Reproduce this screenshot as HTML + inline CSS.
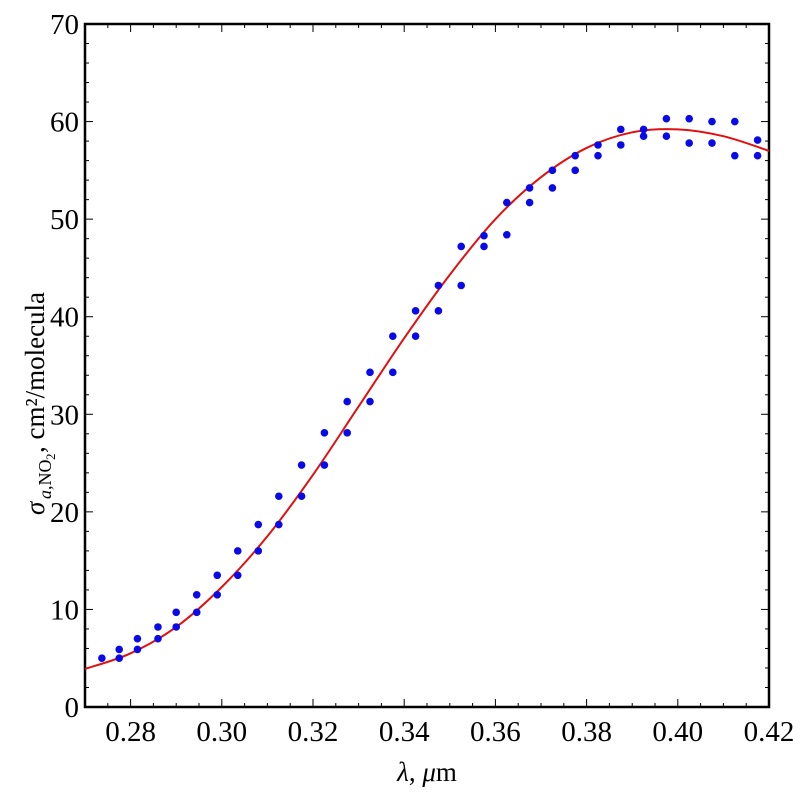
<!DOCTYPE html>
<html><head><meta charset="utf-8"><style>
body{margin:0;background:#fff}
svg text{font-family:"Liberation Serif",serif;fill:#000}
</style></head><body>
<svg id="chart" width="800" height="800">
<g id="axes"></g><g id="marks"></g>
<text x="427" y="781" font-size="27" text-anchor="middle"><tspan font-style="italic">λ</tspan>, <tspan font-style="italic">μ</tspan>m</text>
<g transform="translate(44,365) rotate(-90)">
<text x="-150" y="0" font-size="27" font-style="italic">σ</text>
<text x="-134" y="7" font-size="18"><tspan font-style="italic">a</tspan>,NO</text>
<text x="-95" y="11" font-size="13">2</text>
<text x="-88" y="0" font-size="27">, cm²/molecula</text>
</g>
</svg>
<script>
const xPts=[0.2737,0.2775,0.2775,0.2815,0.2815,0.286,0.286,0.290,0.290,0.2945,0.2945,0.299,0.299,0.3035,0.3035,0.308,0.308,0.3125,0.3125,0.3175,0.3175,0.3225,0.3225,0.3275,0.3275,0.3325,0.3325,0.3375,0.3375,0.3425,0.3425,0.3475,0.3475,0.3525,0.3525,0.3575,0.3575,0.3625,0.3625,0.3675,0.3675,0.3725,0.3725,0.3775,0.3775,0.3825,0.3825,0.3875,0.3875,0.3925,0.3925,0.3975,0.3975,0.4025,0.4025,0.4075,0.4075,0.4125,0.4125,0.4175,0.4175];
const yPts=[5.0,5.9,5.0,7.0,5.9,8.2,7.0,9.7,8.2,11.5,9.7,13.5,11.5,16.0,13.5,18.7,16.0,21.6,18.7,24.8,21.6,28.1,24.8,31.3,28.1,34.3,31.3,38.0,34.3,40.6,38.0,43.2,40.6,47.2,43.2,48.3,47.2,51.7,48.4,53.2,51.7,55.0,53.2,56.5,55.0,57.6,56.5,59.2,57.6,59.2,58.5,60.3,58.5,60.3,57.8,60.0,57.8,60.0,56.5,58.1,56.5];
const xFit=[0.27,0.28,0.29,0.30,0.31,0.32,0.33,0.34,0.35,0.36,0.37,0.38,0.39,0.40,0.41,0.42];
const yFit=[3.9,5.5,8.2,12.3,17.5,23.8,30.8,37.8,44.3,50.0,54.3,57.3,58.9,59.2,58.5,57.0];
const xTicks=[0.28,0.30,0.32,0.34,0.36,0.38,0.40,0.42];
const yTicks=[0,10,20,30,40,50,60,70];
const L=85,R=769,T=24,B=707;
const sx=v=>L+(v-0.27)/(0.15)*(R-L);
const sy=v=>B-v/70*(B-T);
const NS="http://www.w3.org/2000/svg";
const ax=document.getElementById('axes'),mk=document.getElementById('marks');
function mkEl(t,a,p){const e=document.createElementNS(NS,t);for(const k in a)e.setAttribute(k,a[k]);p.appendChild(e);return e;}
const fr=mkEl('rect',{x:L,y:T,width:R-L,height:B-T,fill:'none',stroke:'#000','stroke-width':2.5},ax);


for(let v=0.27;v<=0.4201;v+=0.005){const x=sx(v);const maj=xTicks.some(t=>Math.abs(t-v)<1e-6);const len=maj?8:4;
mkEl('line',{x1:x,x2:x,y1:B,y2:B-len,stroke:'#000','stroke-width':1},ax);mkEl('line',{x1:x,x2:x,y1:T,y2:T+len,stroke:'#000','stroke-width':1},ax);}
for(let v=0;v<=70;v+=2){const y=sy(v);const len=v%10===0?8:4;
mkEl('line',{x1:L,x2:L+len,y1:y,y2:y,stroke:'#000','stroke-width':1},ax);mkEl('line',{x1:R,x2:R-len,y1:y,y2:y,stroke:'#000','stroke-width':1},ax);}
xTicks.forEach(v=>{const t=mkEl('text',{x:sx(v),y:741,'font-size':29,'text-anchor':'middle'},ax);t.textContent=v.toFixed(2);

});
yTicks.forEach(v=>{const t=mkEl('text',{x:L-6,y:sy(v)+10,'font-size':29,'text-anchor':'end'},ax);t.textContent=v;

});
const P=xFit.map((x,i)=>[sx(x),sy(yFit[i])]);
let d=`M${P[0][0]},${P[0][1]}`;
for(let i=0;i<P.length-1;i++){const p0=P[Math.max(0,i-1)],p1=P[i],p2=P[i+1],p3=P[Math.min(P.length-1,i+2)];
d+=` C${p1[0]+(p2[0]-p0[0])/6},${p1[1]+(p2[1]-p0[1])/6} ${p2[0]-(p3[0]-p1[0])/6},${p2[1]-(p3[1]-p1[1])/6} ${p2[0]},${p2[1]}`;}
const cp=mkEl('path',{d:d,fill:'none',stroke:'#e01010','stroke-width':2},mk);


xPts.forEach((x,i)=>{const c=mkEl('circle',{cx:sx(x),cy:sy(yPts[i]),r:3.8,fill:'#0a0ae8'},mk);

});
</script>
</body></html>
